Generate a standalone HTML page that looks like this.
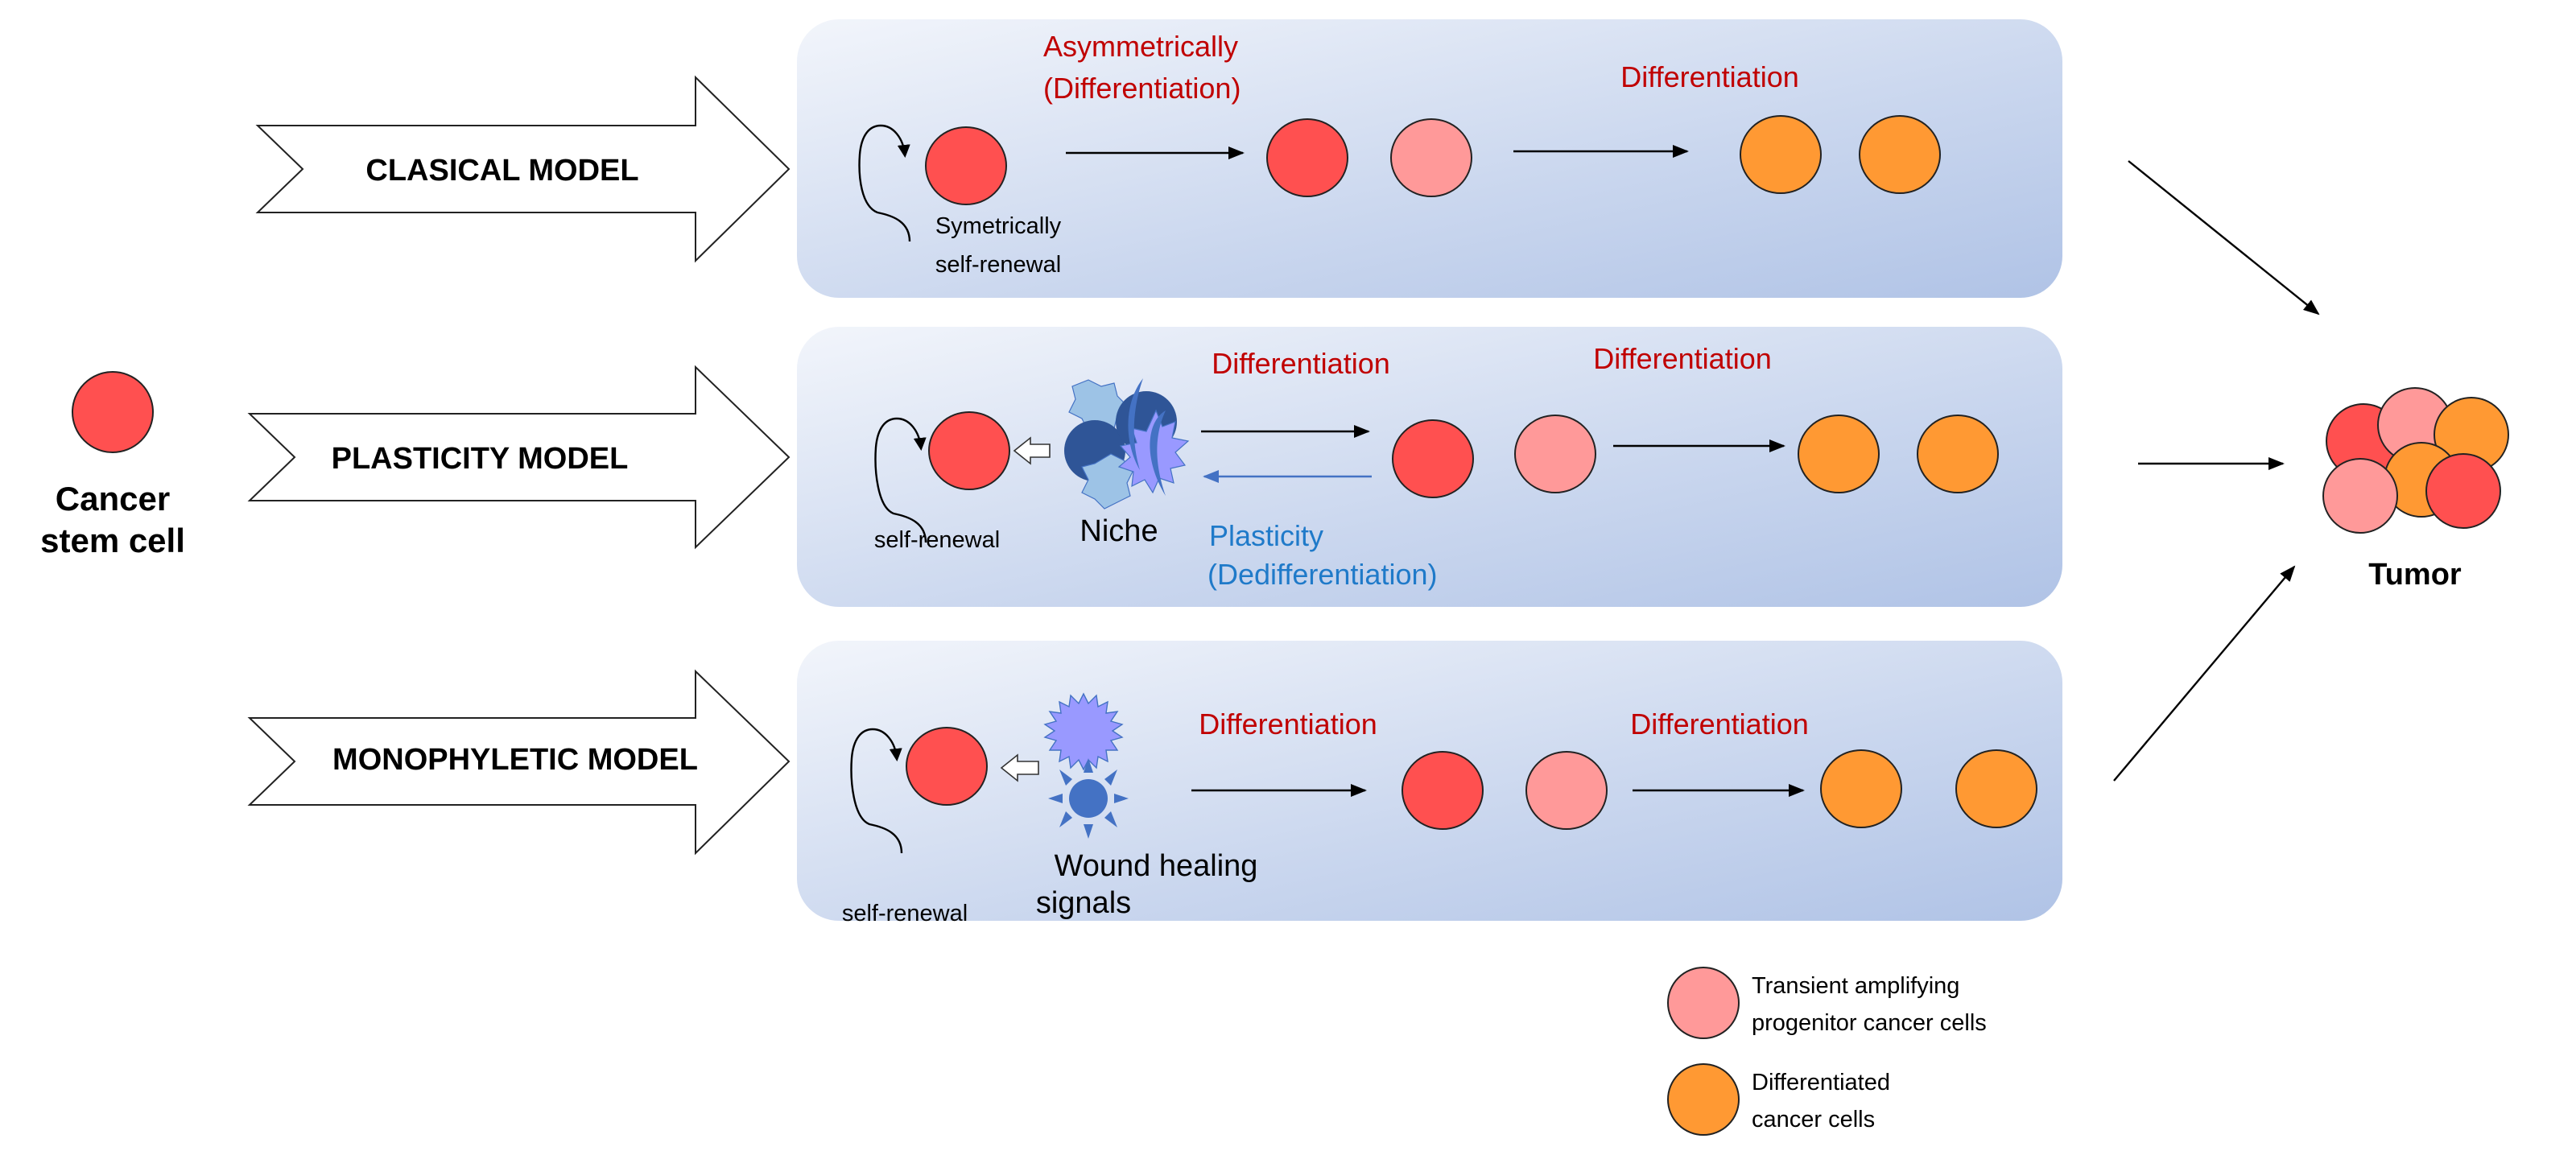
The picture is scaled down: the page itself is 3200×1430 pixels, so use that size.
<!DOCTYPE html>
<html><head><meta charset="utf-8"><style>html,body{margin:0;padding:0;background:#fff}svg{display:block}</style></head>
<body>
<svg width="3200" height="1430" viewBox="0 0 1600 715" xmlns="http://www.w3.org/2000/svg" font-family="Liberation Sans, sans-serif">
<defs>
<linearGradient id="g" x1="0" y1="0" x2="1" y2="1">
<stop offset="0" stop-color="#f2f5fb"/><stop offset="0.6" stop-color="#c9d6ee"/><stop offset="1" stop-color="#b0c3e6"/></linearGradient>
<marker id="a" markerWidth="10" markerHeight="8" refX="9" refY="4" orient="auto" markerUnits="userSpaceOnUse"><path d="M0,0 L10,4 L0,8 z" fill="#000"/></marker>
<marker id="b" markerWidth="10" markerHeight="8" refX="9" refY="4" orient="auto" markerUnits="userSpaceOnUse"><path d="M0,0 L10,4 L0,8 z" fill="#4472c4"/></marker>
<marker id="c" markerWidth="8" markerHeight="8" refX="6" refY="4" orient="auto" markerUnits="userSpaceOnUse"><path d="M0,0 L8,4 L0,8 z" fill="#000"/></marker>
</defs>
<g stroke="none" fill="url(#g)">
<rect x="495" y="12" width="786" height="173" rx="26"/>
<rect x="495" y="203" width="786" height="174" rx="26"/>
<rect x="495" y="398" width="786" height="174" rx="26"/>
</g>
<g fill="#fff" stroke="#222" stroke-width="1">
<path d="M160,78 L432,78 L432,48 L490,105 L432,162 L432,132 L160,132 L188,105 Z"/>
<path d="M155,257 L432,257 L432,228 L490,284 L432,340 L432,311 L155,311 L183,284 Z"/>
<path d="M155,446 L432,446 L432,417 L490,473 L432,530 L432,500 L155,500 L183,473 Z"/>
</g>
<g font-weight="bold" font-size="19" text-anchor="middle" fill="#000">
<text x="312" y="112">CLASICAL MODEL</text>
<text x="298" y="291">PLASTICITY MODEL</text>
<text x="320" y="478">MONOPHYLETIC MODEL</text>
<text x="70" y="317" font-size="21">Cancer</text>
<text x="70" y="343" font-size="21">stem cell</text>
<text x="1500" y="363" font-size="19">Tumor</text>
</g>
<g stroke="#222" stroke-width="1">
<circle cx="70" cy="256" r="25" fill="#ff5050"/>
<ellipse cx="600" cy="103" rx="25" ry="24" fill="#ff5050"/>
<ellipse cx="812" cy="98" rx="25" ry="24" fill="#ff5050"/>
<ellipse cx="889" cy="98" rx="25" ry="24" fill="#ff9999"/>
<ellipse cx="1106" cy="96" rx="25" ry="24" fill="#ff9933"/>
<ellipse cx="1180" cy="96" rx="25" ry="24" fill="#ff9933"/>
<ellipse cx="602" cy="280" rx="25" ry="24" fill="#ff5050"/>
<ellipse cx="890" cy="285" rx="25" ry="24" fill="#ff5050"/>
<ellipse cx="966" cy="282" rx="25" ry="24" fill="#ff9999"/>
<ellipse cx="1142" cy="282" rx="25" ry="24" fill="#ff9933"/>
<ellipse cx="1216" cy="282" rx="25" ry="24" fill="#ff9933"/>
<ellipse cx="588" cy="476" rx="25" ry="24" fill="#ff5050"/>
<ellipse cx="896" cy="491" rx="25" ry="24" fill="#ff5050"/>
<ellipse cx="973" cy="491" rx="25" ry="24" fill="#ff9999"/>
<ellipse cx="1156" cy="490" rx="25" ry="24" fill="#ff9933"/>
<ellipse cx="1240" cy="490" rx="25" ry="24" fill="#ff9933"/>
<circle cx="1468" cy="274" r="23" fill="#ff5050"/>
<circle cx="1500" cy="264" r="23" fill="#ff9999"/>
<circle cx="1535" cy="270" r="23" fill="#ff9933"/>
<circle cx="1504" cy="298" r="23" fill="#ff9933"/>
<circle cx="1466" cy="308" r="23" fill="#ff9999"/>
<circle cx="1530" cy="305" r="23" fill="#ff5050"/>
<circle cx="1058" cy="623" r="22" fill="#ff9999"/>
<circle cx="1058" cy="683" r="22" fill="#ff9933"/>
</g>
<g stroke="#000" stroke-width="1.2" fill="none">
<line x1="662" y1="95" x2="772" y2="95" marker-end="url(#a)"/>
<line x1="940" y1="94" x2="1048" y2="94" marker-end="url(#a)"/>
<line x1="746" y1="268" x2="850" y2="268" marker-end="url(#a)"/>
<line x1="1002" y1="277" x2="1108" y2="277" marker-end="url(#a)"/>
<line x1="740" y1="491" x2="848" y2="491" marker-end="url(#a)"/>
<line x1="1014" y1="491" x2="1120" y2="491" marker-end="url(#a)"/>
<line x1="1322" y1="100" x2="1440" y2="195" marker-end="url(#a)"/>
<line x1="1328" y1="288" x2="1418" y2="288" marker-end="url(#a)"/>
<line x1="1313" y1="485" x2="1425" y2="352" marker-end="url(#a)"/>
<path d="M565,150 C565,138 555,134 545,132 C535,128 533,110 534,96 C535,84 540,78 547,78 C555,78 561,86 562,96" marker-end="url(#c)"/>
<path d="M575,337 C575,325 565,321 555,319 C545,315 543,292 544,278 C545,266 550,260 557,260 C565,260 571,268 572,278" marker-end="url(#c)"/>
<path d="M560,530 C560,518 550,514 540,512 C530,508 528,485 529,471 C530,459 535,453 542,453 C550,453 556,461 557,471" marker-end="url(#c)"/>
</g>
<line x1="852" y1="296" x2="748" y2="296" stroke="#4472c4" stroke-width="1.2" marker-end="url(#b)"/>
<g fill="#fff" stroke="#333" stroke-width="0.8">
<path d="M652,276 L640,276 L640,272 L630,280 L640,288 L640,284 L652,284 Z"/>
<path d="M645,473 L632,473 L632,469 L622,477 L632,485 L632,481 L645,481 Z"/>
</g>
<g>
<polygon points="676,236 684,240 692,238 694,246 700,252 694,258 692,266 684,264 676,268 672,260 664,256 668,248 666,240" fill="#9dc3e6" stroke="#4472c4" stroke-width="0.6"/>
<circle cx="680" cy="280" r="19" fill="#2f5597"/>
<polygon points="690,282 698,286 704,292 700,300 702,308 694,312 686,316 680,310 672,306 676,298 672,290 680,288" fill="#9dc3e6" stroke="#4472c4" stroke-width="0.6"/>
<circle cx="712" cy="262" r="19" fill="#2f5597"/>
<polygon points="718,255 722,265 730,262 728,272 738,274 730,281 736,289 727,291 729,300 720,297 716,306 711,298 703,302 704,293 695,290 702,284 696,277 706,275 703,266 712,268" fill="#9999ff" stroke="#4472c4" stroke-width="0.6"/>
<path d="M710,235 C698,250 698,275 708,292 C702,272 704,252 710,235 Z" fill="#4472c4"/>
<path d="M724,255 C712,262 710,285 724,308 C716,285 718,268 724,255 Z" fill="#4472c4"/>
</g>
<polygon points="673,431 676,437 681,432 682,439 688,436 687,443 694,442 690,448 697,450 691,454 697,458 690,460 694,466 687,466 688,473 682,470 681,477 676,472 673,478 670,472 665,477 664,470 658,473 659,466 652,466 656,460 649,458 655,454 649,450 656,448 652,442 659,443 658,436 664,439 665,432 670,437" fill="#9999ff" stroke="#4472c4" stroke-width="0.7"/>
<g fill="#4472c4">
<circle cx="676" cy="496" r="12"/>
<polygon points="676,471 673,480 679,480"/><polygon points="676,521 673,512 679,512"/>
<polygon points="651,496 660,493 660,499"/><polygon points="701,496 692,493 692,499"/>
<polygon points="658,478 666,484 662,488"/><polygon points="694,478 686,484 690,488"/>
<polygon points="658,514 666,508 662,504"/><polygon points="694,514 686,508 690,504"/>
</g>
<g font-size="18" fill="#c00000">
<text x="648" y="35">Asymmetrically</text>
<text x="648" y="61">(Differentiation)</text>
<text x="1062" y="54" text-anchor="middle">Differentiation</text>
<text x="808" y="232" text-anchor="middle">Differentiation</text>
<text x="1045" y="229" text-anchor="middle">Differentiation</text>
<text x="800" y="456" text-anchor="middle">Differentiation</text>
<text x="1068" y="456" text-anchor="middle">Differentiation</text>
</g>
<g font-size="18" fill="#1f7ac9">
<text x="751" y="339">Plasticity</text>
<text x="750" y="363">(Dedifferentiation)</text>
</g>
<g font-size="14.5" fill="#000">
<text x="620" y="145" text-anchor="middle">Symetrically</text>
<text x="620" y="169" text-anchor="middle">self-renewal</text>
<text x="582" y="340" text-anchor="middle">self-renewal</text>
<text x="562" y="572" text-anchor="middle">self-renewal</text>
<text x="1088" y="617">Transient amplifying</text>
<text x="1088" y="640">progenitor cancer cells</text>
<text x="1088" y="677">Differentiated</text>
<text x="1088" y="700">cancer cells</text>
</g>
<g font-size="19" fill="#000" text-anchor="middle">
<text x="695" y="336">Niche</text>
<text x="718" y="544">Wound healing</text>
<text x="673" y="567">signals</text>
</g>
</svg>
</body></html>
